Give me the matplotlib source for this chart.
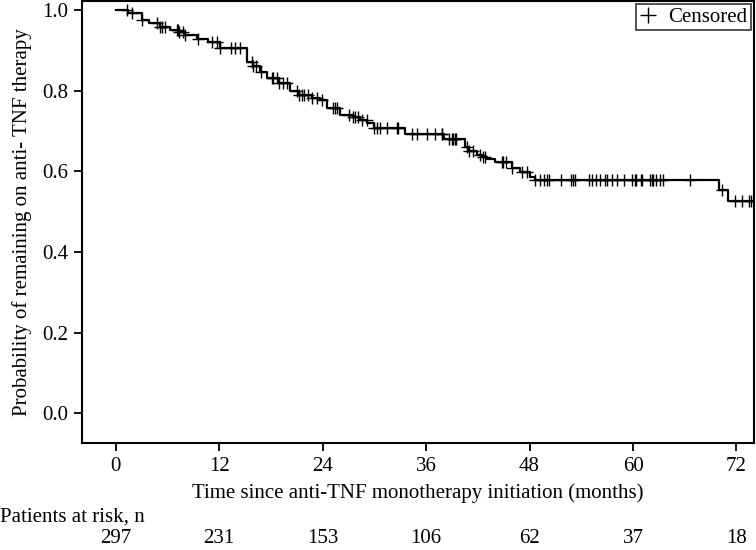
import numpy as np
import matplotlib.pyplot as plt
from matplotlib.lines import Line2D

plt.rcParams['font.family'] = ['Liberation Serif', 'DejaVu Serif']

# Kaplan-Meier step points (months, survival)
step_times = [0, 1.4, 3.0, 3.9, 5.1, 6.3, 7.4, 8.0, 9.4, 10.7, 12.1, 15.2, 15.9,
              16.7, 17.5, 19.0, 20.2, 21.3, 22.8, 23.7, 24.5, 26.0, 27.5, 28.3,
              29.2, 30.0, 33.5, 38.1, 40.5, 40.9, 41.9, 42.5, 43.1, 44.0, 46.0,
              46.9, 48.0, 48.6, 70.0, 71.0]
step_surv = [1.0, 0.993, 0.975, 0.968, 0.958, 0.95, 0.945, 0.938, 0.928, 0.92,
             0.906, 0.87, 0.86, 0.846, 0.831, 0.82, 0.80, 0.789, 0.782, 0.777,
             0.757, 0.739, 0.734, 0.727, 0.72, 0.707, 0.693, 0.68, 0.66, 0.65,
             0.64, 0.635, 0.63, 0.622, 0.608, 0.598, 0.586, 0.578, 0.553, 0.527]
end_time = 73.8

# censoring times (months)
censor_times = [1.3, 1.9, 3.0, 4.8, 5.1, 5.4, 5.7, 7.1, 7.2, 7.4, 7.8, 8.1, 9.5,
                11.2, 11.7, 12.1, 13.4, 13.8, 14.4, 15.8, 15.9, 16.3, 16.9, 18.1,
                18.2, 18.7, 19.0, 19.4, 19.9, 21.0, 21.3, 21.6, 21.9, 22.3, 22.8,
                23.4, 23.9, 25.2, 25.4, 25.7, 27.1, 27.5, 27.7, 28.1, 28.6, 29.1,
                30.0, 30.3, 30.6, 31.5, 32.6, 32.7, 34.4, 35.0, 36.1, 37.0, 37.8,
                37.9, 38.7, 39.0, 39.1, 39.3, 39.5, 40.7, 41.0, 41.4, 42.2, 42.6,
                42.8, 44.8, 44.9, 45.3, 46.0, 47.1, 47.7, 48.6, 49.2, 49.7, 50.0,
                50.2, 51.7, 52.8, 53.0, 53.3, 54.9, 55.3, 55.7, 56.2, 56.7, 57.0,
                57.6, 58.2, 59.0, 59.9, 60.2, 60.4, 60.9, 61.1, 62.0, 62.2, 62.3,
                62.7, 63.1, 63.5, 66.6, 70.3, 71.8, 72.6, 73.5, 73.7]

risk_times = [0, 12, 24, 36, 48, 60, 72]
at_risk = [297, 231, 153, 106, 62, 37, 18]

FS = 15

fig = plt.figure(figsize=(7.56, 5.5), dpi=100)
ax = fig.add_axes([0.1085, 0.1945, 0.8885, 0.8035])

t = np.array(step_times + [end_time])
s = np.array(step_surv + [step_surv[-1]])
ax.step(t, s, where='post', color='black', lw=1.6)

# censor marks sit on the curve
ct = np.array(censor_times)
idx = np.searchsorted(np.array(step_times), ct, side='right') - 1
cs = np.array(step_surv)[idx]
ax.plot(ct, cs, ls='none', marker='+', ms=9, mew=1.0, color='black')

ax.set_xlim(-3.9, 74)
ax.set_ylim(-0.074, 1.022)
ax.set_xticks(risk_times)
ax.set_yticks([0.0, 0.2, 0.4, 0.6, 0.8, 1.0])
ax.set_yticklabels(['0.0', '0.2', '0.4', '0.6', '0.8', '1.0'])
ax.tick_params(direction='out', length=6, width=1.3, labelsize=FS, pad=4)
for sp in ax.spines.values():
    sp.set_linewidth(1.5)

ax.set_xlabel('Time since anti-TNF monotherapy initiation (months)', fontsize=FS, labelpad=5)
ax.set_ylabel('Probability of remaining on anti- TNF therapy', fontsize=FS, labelpad=7)

handle = Line2D([], [], ls='none', marker='+', ms=12, mew=1.0, color='black')
leg = ax.legend([handle], ['Censored'], loc='upper right', fontsize=FS,
                frameon=True, fancybox=False, borderaxespad=0.15,
                handlelength=0.8, handletextpad=0.6, borderpad=0.15)
leg.get_frame().set_edgecolor('black')
leg.get_frame().set_linewidth(1.2)

# patients at risk table
fig.text(0.0, 1 - 517 / 550, 'Patients at risk, n', fontsize=FS, ha='left', va='center')
for tt, n in zip(risk_times, at_risk):
    ax.annotate(str(n), xy=(tt, 0), xycoords=('data', 'figure fraction'),
                xytext=(0, 8.5), textcoords='offset points',
                ha='center', va='center', fontsize=FS)

fig.savefig('out.png', dpi=100)
